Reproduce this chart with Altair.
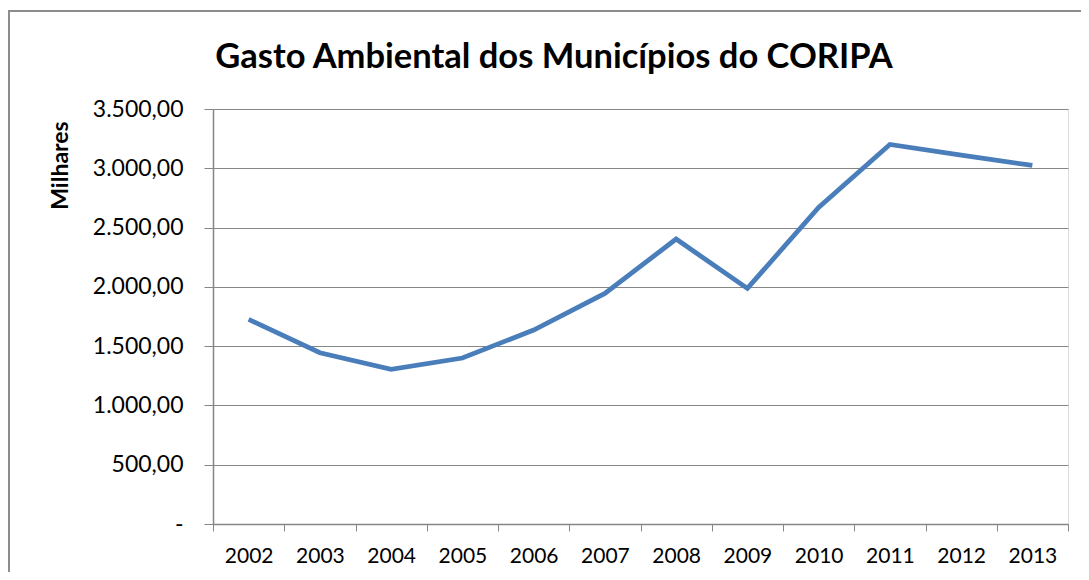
import altair as alt
import pandas as pd

years = ["2002", "2003", "2004", "2005", "2006", "2007",
         "2008", "2009", "2010", "2011", "2012", "2013"]
values = [1726, 1444, 1304, 1400, 1636, 1945, 2403, 1987, 2670, 3201, 3111, 3024]
y_ticks = [0, 500, 1000, 1500, 2000, 2500, 3000, 3500]

title_text = "Gasto Ambiental dos Municípios do CORIPA"
y_title = "Milhares"

df = pd.DataFrame({"ano": years, "valor": values})

FONT = "Lato"
GRAY = "#868686"

label_expr = (
    "datum.value == 0 ? '-\u2007' : "
    "replace(replace(replace(format(datum.value, ',.2f'), ',', '_'), '.', ','), '_', '.')"
)

line = alt.Chart(df).mark_line(color="#4A7EBB", strokeWidth=4.8, strokeJoin="miter").encode(
    x=alt.X(
        "ano:N",
        sort=years,
        scale=alt.Scale(type="band", paddingInner=0, paddingOuter=0),
        axis=alt.Axis(
            title=None,
            labelAngle=0,
            labelFont=FONT,
            labelFontSize=21,
            labelColor="#000000",
            labelPadding=14,
            labelBaseline="top",
            tickBand="extent",
            tickSize=7,
            tickColor=GRAY,
            domainColor=GRAY,
            domainWidth=1.5,
            grid=False,
        ),
    ),
    y=alt.Y(
        "valor:Q",
        scale=alt.Scale(domain=[0, 3500], nice=False),
        axis=alt.Axis(
            title=y_title,
            titleFont=FONT,
            titleFontSize=23,
            titleFontWeight="bold",
            titleColor="#000000",
            titleAngle=270,
            titleX=-153,
            titleY=56,
            titleAlign="center",
            titleBaseline="middle",
            values=y_ticks,
            labelExpr=label_expr,
            labelFont=FONT,
            labelFontSize=23,
            labelColor="#000000",
            labelPadding=21,
            tickSize=9,
            tickColor=GRAY,
            domainColor=GRAY,
            domainWidth=1.5,
            grid=True,
            gridColor=GRAY,
            gridWidth=1.2,
        ),
    ),
)

frame_df = pd.DataFrame({"k": [0]})
top_border = alt.Chart(frame_df).mark_rule(color="#8C8C8C", strokeWidth=2).encode(
    x=alt.value(-210), x2=alt.value(900), y=alt.value(-98)
)
left_border = alt.Chart(frame_df).mark_rule(color="#8C8C8C", strokeWidth=2).encode(
    x=alt.value(-204), y=alt.value(-99), y2=alt.value(470)
)
title_mark = alt.Chart(frame_df).mark_text(
    font=FONT, fontSize=34.5, fontWeight="bold", color="#000000",
    align="center", baseline="alphabetic",
).encode(
    x=alt.value(341), y=alt.value(-41), text=alt.value(title_text)
)

chart = alt.layer(top_border, left_border, line, title_mark).properties(
    width=855,
    height=415,
    autosize=alt.AutoSizeParams(type="none"),
    padding={"left": 205, "top": 101, "right": 13, "bottom": 48},
).configure_view(stroke=None).configure(background="#ffffff")

chart.save("out.html", embed_options={"renderer": "svg", "actions": False})
